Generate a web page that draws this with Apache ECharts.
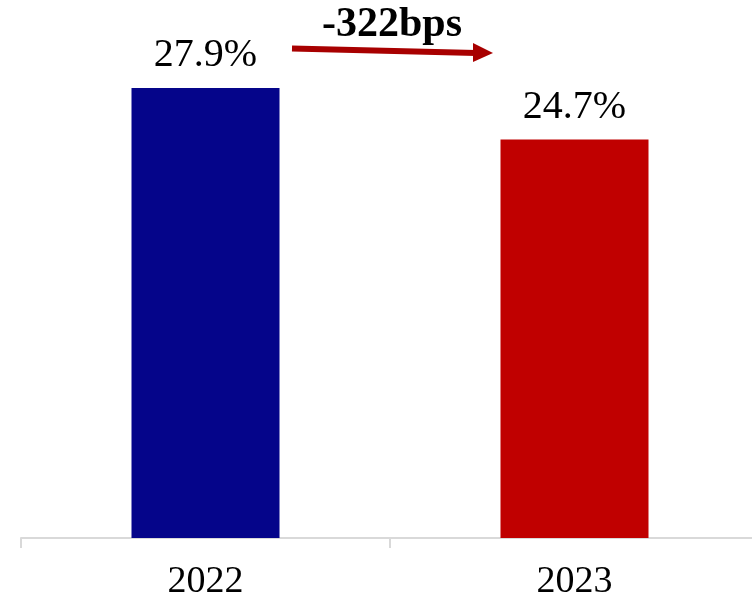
<!DOCTYPE html>
<html>
<head>
<meta charset="utf-8">
<script src="https://cdn.jsdelivr.net/npm/echarts@6/dist/echarts.min.js"></script>
<style>
  html, body { margin: 0; padding: 0; background: #fff; }
  #chart { width: 752px; height: 596px; }
</style>
</head>
<body>
<div id="chart"></div>
<script>
// Yearly values (percent)
const years = ['2022', '2023'];
const rates = [27.9, 24.7];
const barColors = ['#05058a', '#c00000'];
const changeLabel = '-322bps';

const chart = echarts.init(document.getElementById('chart'), null, { renderer: 'canvas' });

const serif = '"Liberation Serif", "Times New Roman", serif';

chart.setOption({
  animation: false,
  grid: { left: 21, width: 738, top: 54, bottom: 58, outerBoundsMode: 'none', containLabel: false },
  xAxis: {
    type: 'category',
    data: years,
    axisLine: { lineStyle: { color: '#d9d9d9', width: 2 } },
    axisTick: { show: true, length: 10, lineStyle: { color: '#d9d9d9', width: 2 } },
    axisLabel: { color: '#000', fontFamily: serif, fontSize: 38, margin: 25 }
  },
  yAxis: {
    type: 'value',
    min: 0,
    max: 30,
    show: false,
    splitLine: { show: false }
  },
  series: [{
    type: 'bar',
    barWidth: 148,
    data: rates.map((v, i) => ({ value: v, itemStyle: { color: barColors[i] } })),
    label: {
      show: true,
      position: 'top',
      distance: 12,
      color: '#000',
      fontFamily: serif,
      fontSize: 40,
      formatter: p => p.value.toFixed(1) + '%'
    }
  }],
  graphic: [
    {
      type: 'line',
      shape: { x1: 292, y1: 48.5, x2: 476, y2: 53 },
      style: { stroke: '#a80000', lineWidth: 6 }
    },
    {
      type: 'polygon',
      shape: { points: [[473, 43], [493, 53], [473, 62]] },
      style: { fill: '#a80000' }
    },
    {
      type: 'text',
      style: {
        text: changeLabel,
        x: 392, y: 25,
        align: 'center', verticalAlign: 'middle',
        font: 'bold 42px ' + serif,
        fill: '#000'
      }
    }
  ]
});
</script>
</body>
</html>
